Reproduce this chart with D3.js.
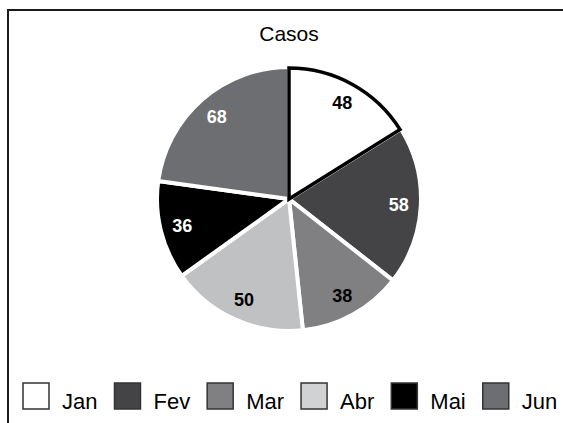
<!DOCTYPE html>
<html>
<head>
<meta charset="utf-8">
<script src="https://cdn.jsdelivr.net/npm/d3@7"></script>
<style>
  html, body { margin: 0; padding: 0; background: #fff; }
  svg { display: block; font-family: Arial, "Liberation Sans", sans-serif; }
</style>
</head>
<body>
<div id="chart"></div>
<script>
// data
const months = ['Jan', 'Fev', 'Mar', 'Abr', 'Mai', 'Jun'];
const cases = [48, 58, 38, 50, 36, 68];
const fills = ['#ffffff', '#444446', '#808083', '#c0c1c3', '#000000', '#6d6e71'];
const legendFills = ['#ffffff', '#444446', '#808083', '#d1d2d4', '#000000', '#6d6e71'];
const labelColors = ['#000', '#fff', '#000', '#000', '#fff', '#fff'];

const width = 563;
const height = 423;
const cx = 289;
const cy = 199;
const radius = 132;

const svg = d3.select('#chart')
  .append('svg')
  .attr('width', width)
  .attr('height', height);

// frame (runs off the right and bottom edges)
svg.append('rect')
  .attr('x', 8)
  .attr('y', 10)
  .attr('width', 600)
  .attr('height', 460)
  .attr('fill', 'none')
  .attr('stroke', '#1a1a1a')
  .attr('stroke-width', 2);

svg.append('text')
  .attr('x', cx)
  .attr('y', 41)
  .attr('text-anchor', 'middle')
  .style('font-size', '21px')
  .text('Casos');

const pie = d3.pie().sort(null).value((d) => d);
const arcs = pie(cases);
const arc = d3.arc().innerRadius(0).outerRadius(radius);
const labelArc = d3.arc().innerRadius(110).outerRadius(110);

const g = svg.append('g')
  .attr('transform', 'translate(' + cx + ',' + cy + ')');

g.selectAll('path.slice')
  .data(arcs)
  .enter()
  .append('path')
  .attr('class', 'slice')
  .attr('d', arc)
  .attr('fill', (d, i) => fills[i])
  .attr('stroke', '#fff')
  .attr('stroke-width', 4)
  .attr('stroke-linejoin', 'miter');

// Jan slice outlined in black
const janArc = d3.arc().innerRadius(0).outerRadius(radius - 1);
g.append('path')
  .attr('d', janArc(arcs[0]))
  .attr('fill', 'none')
  .attr('stroke', '#000')
  .attr('stroke-width', 3.5)
  .attr('stroke-linejoin', 'miter');

g.selectAll('text.lbl')
  .data(arcs)
  .enter()
  .append('text')
  .attr('class', 'lbl')
  .attr('transform', (d) => 'translate(' + labelArc.centroid(d) + ')')
  .attr('text-anchor', 'middle')
  .attr('dy', '0.36em')
  .style('font-size', '18px')
  .style('font-weight', 'bold')
  .attr('fill', (d, i) => labelColors[i])
  .text((d) => d.data);

// legend
const legend = svg.append('g');
let lx = 23;
months.forEach((m, i) => {
  const item = legend.append('g').attr('transform', 'translate(' + lx + ',383)');
  item.append('rect')
    .attr('width', 26)
    .attr('height', 26)
    .attr('fill', legendFills[i])
    .attr('stroke', '#333')
    .attr('stroke-width', 1.5);
  const t = item.append('text')
    .attr('x', 39)
    .attr('y', 26)
    .style('font-size', '22px')
    .text(m);
  lx += 39 + t.node().getComputedTextLength() + 17;
});
</script>
</body>
</html>
